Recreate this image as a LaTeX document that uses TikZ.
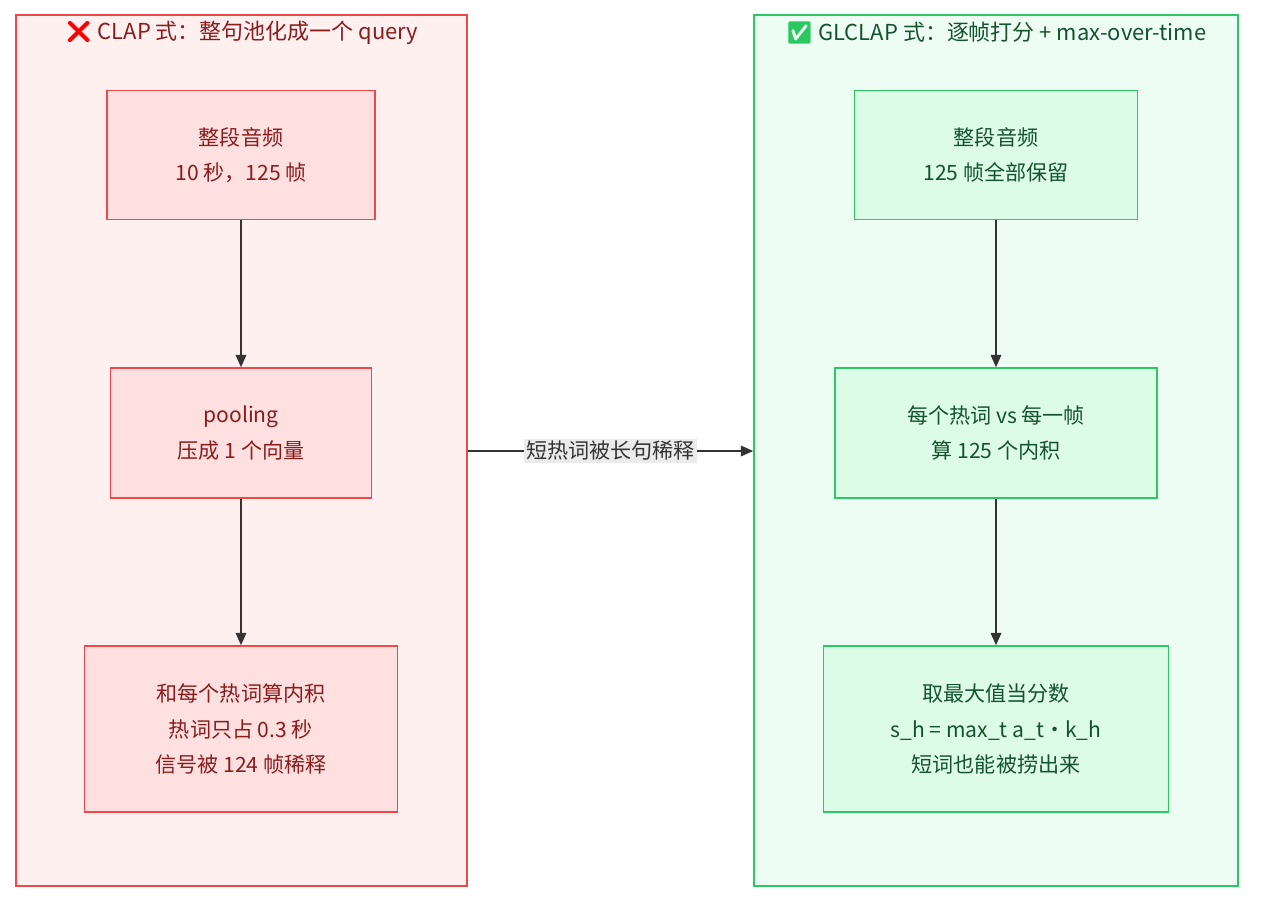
\documentclass[tikz,border=0pt]{standalone}
\usepackage{fontspec}
\setmainfont{Noto Sans CJK SC}
\newfontfamily\emojifont{Noto Emoji}
\usetikzlibrary{arrows.meta,positioning}
\definecolor{redfill}{HTML}{FFF0F0}
\definecolor{redbox}{HTML}{FFE0E0}
\definecolor{redline}{HTML}{F04848}
\definecolor{redtext}{HTML}{8A1C1C}
\definecolor{greenfill}{HTML}{EEFDF3}
\definecolor{greenbox}{HTML}{DCFCE7}
\definecolor{greenline}{HTML}{2CC862}
\definecolor{greentext}{HTML}{14532D}
\definecolor{edgecol}{HTML}{333333}
\tikzset{
    cluster/.style = {draw, rectangle, line width=0.9pt, inner sep=0pt},
    redblock/.style = {draw=redline, fill=redbox, text=redtext, rectangle, line width=0.9pt,
        align=center, font=\fontsize{12}{20}\selectfont},
    greenblock/.style = {draw=greenline, fill=greenbox, text=greentext, rectangle, line width=0.9pt,
        align=center, font=\fontsize{12}{20}\selectfont},
    title/.style = {font=\fontsize{12.5}{14}\selectfont},
    arrow/.style = {draw=edgecol, line width=0.9pt, -{Triangle[length=7pt,width=6pt]}}
}
\begin{document}
\begin{tikzpicture}[x=0.02cm, y=-0.02cm]
        \useasboundingbox (0,0) rectangle (1270,914);
        % clusters
        \node [cluster, draw=redline, fill=redfill, minimum width=451*0.02cm, minimum height=871*0.02cm] (clap) at (241.5,450.5) {};
        \node [cluster, draw=greenline, fill=greenfill, minimum width=484*0.02cm, minimum height=871*0.02cm] (glclap) at (996,450.5) {};
        \node [title, text=redtext] (claptitle) at (241.5,33) {{\emojifont\color{red}❌}\ CLAP 式：整句池化成一个 query};
        \node [title, text=greentext] (glclaptitle) at (996,33) {{\emojifont\color{greenline}✅}\ GLCLAP 式：逐帧打分 + max-over-time};
        % left
        \node [redblock, minimum width=268*0.02cm, minimum height=129*0.02cm] (audioL) at (241,155) {整段音频\\10 秒，125 帧};
        \node [redblock, minimum width=261*0.02cm, minimum height=130*0.02cm] (pool) at (241,433) {pooling\\压成 1 个向量};
        \node [redblock, minimum width=313*0.02cm, minimum height=166*0.02cm] (dotL) at (241,729) {和每个热词算内积\\热词只占 0.3 秒\\信号被 124 帧稀释};
        % right
        \node [greenblock, minimum width=283*0.02cm, minimum height=129*0.02cm] (audioR) at (996,155) {整段音频\\125 帧全部保留};
        \node [greenblock, minimum width=322*0.02cm, minimum height=130*0.02cm] (frame) at (996,433) {每个热词 vs 每一帧\\算 125 个内积};
        \node [greenblock, minimum width=345*0.02cm, minimum height=166*0.02cm] (maxR) at (996,729) {取最大值当分数\\s\_h = max\_t a\_t·k\_h\\短词也能被捞出来};
        \foreach \a/\b in {audioL/pool, pool/dotL, audioR/frame, frame/maxR}{
            \draw [arrow] (\a) -- (\b);
        }
        \draw [arrow] (clap.east |- 0,451) -- node [fill=black!8, inner sep=1pt, text=edgecol, font=\fontsize{12}{14}\selectfont] {短热词被长句稀释} (glclap.west |- 0,451);
\end{tikzpicture}
\end{document}
